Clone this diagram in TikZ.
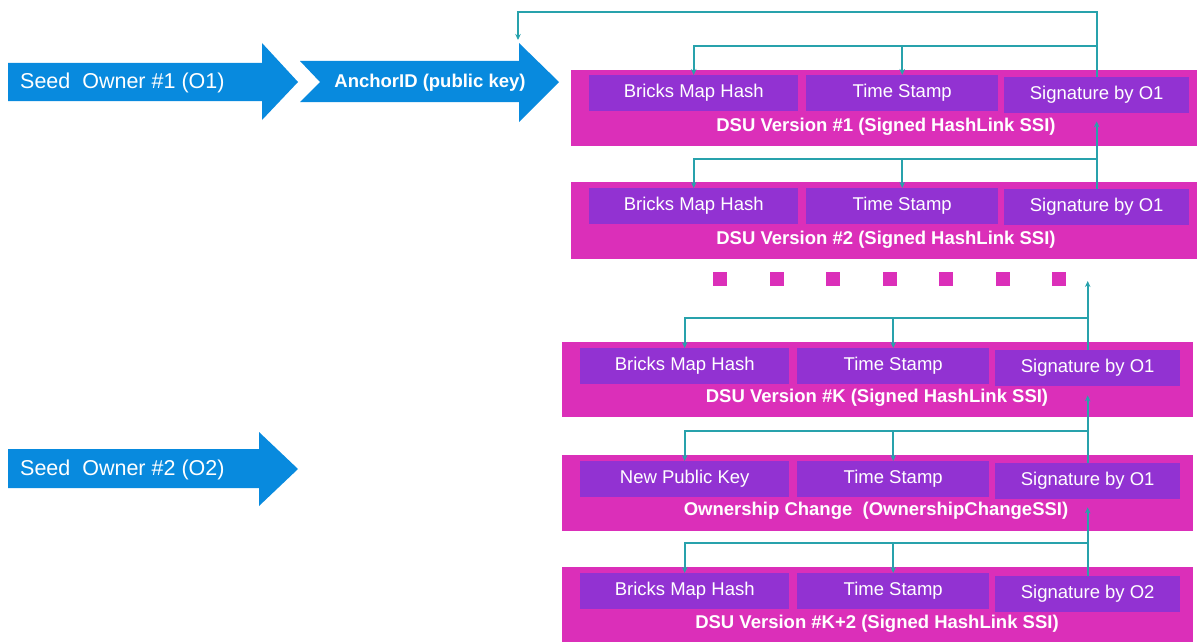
\documentclass[tikz,border=0pt]{standalone}
\usepackage{fontspec}
\setmainfont{Liberation Sans}
\usetikzlibrary{arrows.meta, positioning, calc}

\definecolor{seedblue}{RGB}{8,138,222}
\definecolor{dsumag}{RGB}{219,47,185}
\definecolor{fieldpurple}{RGB}{146,50,210}
\definecolor{linkteal}{RGB}{40,162,172}

\tikzset{
  dsubox/.style={fill=dsumag, anchor=north west, minimum height=76pt, inner sep=0pt},
  field/.style={fill=fieldpurple, text=white, anchor=north west, minimum height=36pt, inner sep=0pt, font=\fontsize{18.5}{20}\selectfont},
  dsutitle/.style={text=white, font=\fontsize{18.5}{20}\selectfont\bfseries},
  seedtext/.style={text=white, anchor=west, inner sep=0pt, font=\fontsize{21.5}{24}\selectfont},
  link/.style={draw=linkteal, line width=1.6pt, -{Stealth[length=6pt, width=5.5pt]}},
}

\begin{document}
\begin{tikzpicture}[x=1pt, y=-1pt]
\useasboundingbox (0,0) rectangle (1197,642);

% Seed and anchor arrows
\fill[seedblue] (8,63) -- (262,63) -- (262,43) -- (298,82) -- (262,120) -- (262,101) -- (8,101) -- cycle;
\node[seedtext] (seed1) at (20,83) {Seed~ Owner \#1 (O1)};
\fill[seedblue] (300,61) -- (519,61) -- (519,43) -- (559,82) -- (519,122) -- (519,102) -- (300,102) -- (320,82) -- cycle;
\node[dsutitle] (anchorid) at (430,83) {AnchorID (public key)};
\coordinate (anc) at (518,40);
\fill[seedblue] (8,449) -- (259,449) -- (259,432) -- (298,469) -- (259,506) -- (259,488) -- (8,488) -- cycle;
\node[seedtext] (seed2) at (20,470) {Seed~ Owner \#2 (O2)};

% DSU Version #1
\node[dsubox, minimum width=626pt] (v1) at (571,70) {};
\node[field, minimum width=209pt] (b1) at (589,75) {Bricks Map Hash};
\node[field, minimum width=192pt] (t1) at (806,75) {Time Stamp};
\node[field, minimum width=185pt] (s1) at (1004,77) {Signature by O1};
\node[dsutitle] (n1) at (886,127) {DSU Version \#1 (Signed HashLink SSI)};

% DSU Version #2
\node[dsubox, minimum width=626pt, minimum height=77pt] (v2) at (571,182) {};
\node[field, minimum width=209pt] (b2) at (589,188) {Bricks Map Hash};
\node[field, minimum width=192pt] (t2) at (806,188) {Time Stamp};
\node[field, minimum width=185pt] (s2) at (1004,189) {Signature by O1};
\node[dsutitle] (n2) at (886,240) {DSU Version \#2 (Signed HashLink SSI)};

% dots
\foreach \i in {0,...,6}
  \fill[dsumag] (713+56.5*\i,272) rectangle ++(14,14);

% DSU Version #K
\node[dsubox, minimum width=631pt, minimum height=75pt] (vk) at (562,342) {};
\node[field, minimum width=209pt] (bk) at (580,348) {Bricks Map Hash};
\node[field, minimum width=192pt] (tk) at (797,348) {Time Stamp};
\node[field, minimum width=185pt] (sk) at (995,350) {Signature by O1};
\node[dsutitle] (nk) at (877,398) {DSU Version \#K (Signed HashLink SSI)};

% Ownership change
\node[dsubox, minimum width=631pt] (voc) at (562,455) {};
\node[field, minimum width=209pt] (boc) at (580,461) {New Public Key};
\node[field, minimum width=192pt] (toc) at (797,461) {Time Stamp};
\node[field, minimum width=185pt] (soc) at (995,463) {Signature by O1};
\node[dsutitle] (noc) at (876,511) {Ownership Change~ (OwnershipChangeSSI)};

% DSU Version #K+2
\node[dsubox, minimum width=631pt, minimum height=75pt] (vk2) at (562,567) {};
\node[field, minimum width=209pt] (bk2) at (580,573) {Bricks Map Hash};
\node[field, minimum width=192pt] (tk2) at (797,573) {Time Stamp};
\node[field, minimum width=185pt] (sk2) at (995,576) {Signature by O2};
\node[dsutitle] (nk2) at (877,624) {DSU Version \#K+2 (Signed HashLink SSI)};

% links
\coordinate (top) at (518,12);
\draw[link] (s1.north) |- (top) -- (anc);
\coordinate (j1) at (s1.north |- 0,46);
\draw[link] (j1) -| (b1.north);
\draw[link] (j1) -| (t1.north);

\draw[link, shorten >=8pt] (s2.north) -- (s1.south);
\coordinate (j2) at (s2.north |- 0,159);
\draw[link] (j2) -| (b2.north);
\draw[link] (j2) -| (t2.north);

\coordinate (dotend) at (sk.north |- 0,281);
\draw[link] (sk.north) -- (dotend);
\coordinate (jk) at (sk.north |- 0,318);
\draw[link] (jk) -| (bk.north);
\draw[link] (jk) -| (tk.north);

\draw[link, shorten >=9pt] (soc.north) -- (sk.south);
\coordinate (joc) at (soc.north |- 0,431);
\draw[link] (joc) -| (boc.north);
\draw[link] (joc) -| (toc.north);

\draw[link, shorten >=8pt] (sk2.north) -- (soc.south);
\coordinate (jk2) at (sk2.north |- 0,543);
\draw[link] (jk2) -| (bk2.north);
\draw[link] (jk2) -| (tk2.north);

\end{tikzpicture}
\end{document}
